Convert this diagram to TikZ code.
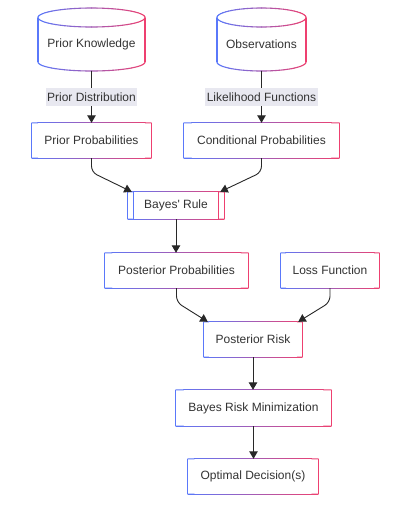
\documentclass[tikz,border=0pt]{standalone}
\usepackage{fontspec}
\setmainfont{Liberation Sans}[Ligatures=TeXOff]
\usetikzlibrary{arrows.meta,calc}
\definecolor{gblue}{RGB}{90,120,250}
\definecolor{gpink}{RGB}{238,64,112}
\definecolor{txtc}{RGB}{51,51,51}
\definecolor{lblbg}{RGB}{232,232,240}
\definecolor{linec}{RGB}{40,40,40}
\newcommand\gframe[1]{%
  \foreach \i in {0,...,19}{%
    \pgfmathtruncatemacro\f{5*\i+2}%
    \pgfmathsetmacro\a{\i/20}%
    \pgfmathsetmacro\b{(\i+1)/20}%
    \draw[color=gpink!\f!gblue, line width=1.1pt, line cap=round]
      ($(#1.north west)!\a!(#1.north east)$) -- ($(#1.north west)!\b!(#1.north east)$);
    \draw[color=gpink!\f!gblue, line width=1.1pt, line cap=round]
      ($(#1.south west)!\a!(#1.south east)$) -- ($(#1.south west)!\b!(#1.south east)$);}
  \draw[gblue, line width=1.1pt] (#1.south west) -- (#1.north west);
  \draw[gpink, line width=1.1pt] (#1.south east) -- (#1.north east);}
\newcommand\cylgrad[2]{%
  \foreach \t in {0,6,...,354}{%
    \pgfmathtruncatemacro\f{50+50*cos(\t+3)}%
    \draw[color=gpink!\f!gblue, line width=1.1pt, line cap=round]
      ({#1+#2*cos(\t)},{17.5+9.5*sin(\t)}) -- ({#1+#2*cos(\t+6)},{17.5+9.5*sin(\t+6)});}
  \foreach \t in {0,6,...,174}{%
    \pgfmathtruncatemacro\f{50+50*cos(\t+3)}%
    \draw[color=gpink!\f!gblue, line width=1.1pt, line cap=round]
      ({#1+#2*cos(\t)},{62+9*sin(\t)}) -- ({#1+#2*cos(\t+6)},{62+9*sin(\t+6)});}
  \draw[gblue, line width=1.1pt] ({#1-#2},17.5) -- ({#1-#2},62);
  \draw[gpink, line width=1.1pt] ({#1+#2},17.5) -- ({#1+#2},62);}
\begin{document}
\begin{tikzpicture}[x=1pt,y=-1pt,
  every node/.style={font=\fontsize{12}{14}\selectfont, text=txtc},
  box/.style={rectangle, inner sep=0pt, fill=white},
  cylbox/.style={rectangle, inner sep=0pt},
  lbl/.style={fill=lblbg, inner xsep=1.5pt, inner ysep=0pt, minimum height=18pt},
  arr/.style={draw=linec, line width=0.9pt, -{Triangle[width=8.5pt,length=7.5pt]}}]
\fill[white] (0,0) rectangle (410,507);
\useasboundingbox (0,0) rectangle (410,507);

% cylinders
\node[cylbox, minimum width=107pt, minimum height=63pt] (pk) at (91.5,39.5) {};
\cylgrad{91.5}{53.5}
\node at (91.5,44.5) {Prior Knowledge};
\node[cylbox, minimum width=89pt, minimum height=63pt] (ob) at (261.5,39.5) {};
\cylgrad{261.5}{44.5}
\node at (261.5,44.5) {Observations};

% boxes
\node[box, minimum width=119pt, minimum height=35pt] (pp) at (91.5,140.5) {Prior Probabilities};
\node[box, minimum width=155pt, minimum height=35pt] (cp) at (261.5,140.5) {Conditional Probabilities};
\node[box, minimum width=96pt, minimum height=27pt] (br) at (176,205.5) {Bayes' Rule};
\node[box, minimum width=143pt, minimum height=35pt] (pop) at (176.5,270.5) {Posterior Probabilities};
\node[box, minimum width=98pt, minimum height=35pt] (lf) at (330,270.5) {Loss Function};
\node[box, minimum width=98pt, minimum height=35pt] (pr) at (253,339.5) {Posterior Risk};
\node[box, minimum width=155pt, minimum height=36pt] (brm) at (253.5,408) {Bayes Risk Minimization};
\node[box, minimum width=130pt, minimum height=35pt] (od) at (253,476.5) {Optimal Decision(s)};

\foreach \n in {pp,cp,br,pop,lf,pr,brm,od}{\gframe{\n}}
\draw[gblue, line width=1.1pt] ([xshift=6pt]br.north west) -- ([xshift=6pt]br.south west);
\draw[gpink, line width=1.1pt] ([xshift=-6pt]br.north east) -- ([xshift=-6pt]br.south east);

% connectors
\draw[arr] (pk.south) -- node[lbl] {Prior Distribution} (pp.north);
\draw[arr] (ob.south) -- node[lbl] {Likelihood Functions} (cp.north);
\draw[arr, rounded corners=6pt] (pp.south) -- ([yshift=-14pt]pp.south) -- ([xshift=4pt]br.north west);
\draw[arr, rounded corners=6pt] (cp.south) -- ([yshift=-14pt]cp.south) -- ([xshift=-4pt]br.north east);
\draw[arr] (br.south) -- (br.south |- pop.north);
\draw[arr, rounded corners=6pt] (pop.south) -- ([yshift=-14pt]pop.south) -- ([xshift=4pt]pr.north west);
\draw[arr, rounded corners=6pt] (lf.south) -- ([yshift=-14pt]lf.south) -- ([xshift=-4pt]pr.north east);
\draw[arr] (pr.south) -- (pr.south |- brm.north);
\draw[arr] (brm.south) -- (brm.south |- od.north);
\end{tikzpicture}
\end{document}
